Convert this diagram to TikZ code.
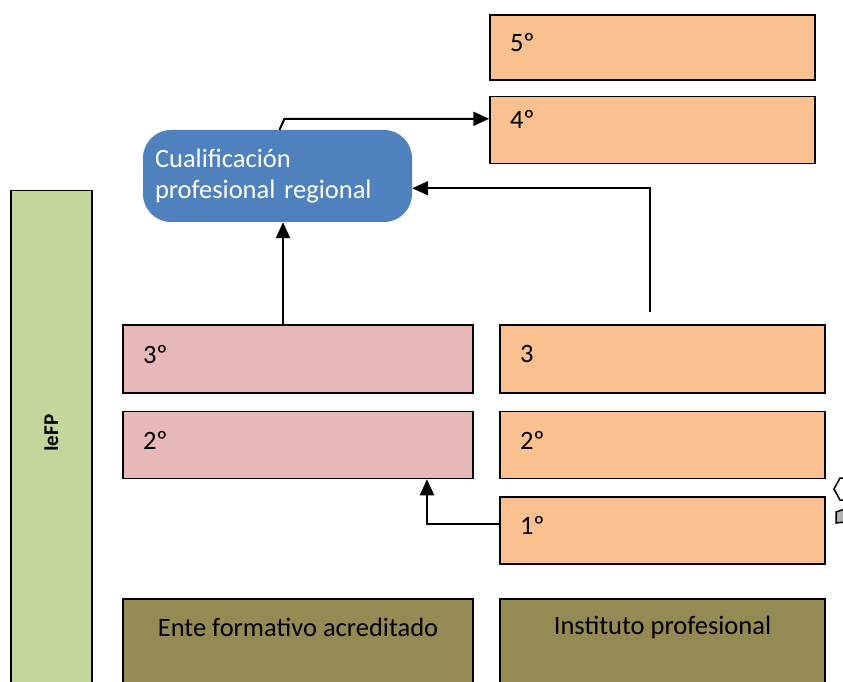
\documentclass[tikz,border=0pt]{standalone}
\usepackage{fontspec}
\setmainfont{Carlito}
\usetikzlibrary{arrows.meta,positioning,calc}
\definecolor{cnaranja}{HTML}{FAC090}
\definecolor{crosa}{HTML}{E6B8B7}
\definecolor{cverde}{HTML}{C3D69B}
\definecolor{cmarron}{HTML}{948A54}
\definecolor{cazul}{HTML}{4F81BD}

\begin{document}
\begin{tikzpicture}[x=1pt, y=1pt, font=\fontsize{26.5}{31}\selectfont]
\tikzset{
    %punta de flecha
    >={Triangle[length=16pt,width=14pt]},
    %estilo de las cajas
    caja/.style={
           rectangle,
           draw=black, line width=1.5pt,
           inner xsep=20pt,
           text depth=10pt,
           align=left,
           minimum height=67pt},
    naranja/.style={caja, fill=cnaranja, text width=285pt},
    rosa/.style={caja, fill=crosa, text width=310pt},
    marron/.style={rectangle, draw=black, line width=1.5pt, fill=cmarron, minimum height=100pt},
    cualif/.style={
           rectangle, rounded corners=28pt,
           fill=cazul, text=white,
           minimum width=269pt, minimum height=92pt,
           text width=245pt, inner xsep=12pt,
           align=left},
    flecha/.style={->, line width=2pt}
}
\useasboundingbox (0,0) rectangle (843,681);

%IeFP
\node[minimum width=81pt, minimum height=501pt, draw=black, line width=1.5pt, fill=cverde, anchor=north] (iefp) at (51.5,491) {};
\node[rotate=90, font=\fontsize{21}{24}\selectfont\bfseries] (iefptxt) at ([yshift=8pt]iefp.center) {IeFP};

%Cajas naranjas
\node(n5) [naranja, minimum height=65pt] at (652.5,633.5) {5º};
\node(n4) [naranja, below=15pt of n5, text depth=22pt] {4º};
\node(n3) [naranja, minimum height=68pt] at (662.5,322) {3};
\node(n2) [naranja, below=17pt of n3]                   {2º};
\node(n1) [naranja, below=17pt of n2]                   {1º};

%Cajas rosas
\node(r3) [rosa, minimum height=68pt] at (298,322) {3º};
\node(r2) [rosa, below=17pt of r3]                 {2º};

%Cualificacion
\node(cual) [cualif] at (277.5,505) {Cualificación\\profesional regional};

%Base
\node(ente) [marron, minimum width=350pt, anchor=north,
    label={[anchor=center, yshift=-29pt]north:Ente formativo acreditado}] at (298,83) {};
\node(inst) [marron, minimum width=325pt, anchor=north,
    label={[anchor=center, yshift=-29pt]north:Instituto profesional}] at (662.5,83) {};

%Restos en el borde
\draw[line width=1.5pt, fill=white] (845,203) -- (840,203) -- (834,192) -- (840,181) -- (845,181);
\draw[line width=1.5pt, fill=gray!60] (836,169) -- (845,172) -- (845,159) -- (836,158) -- cycle;

%Flechas
\draw[flecha] ([xshift=2pt]cual.north) -- ++(5,11) coordinate (c1) -- (c1 -| n4.west);
\draw[flecha] ([xshift=-15pt]r3.north) -- ([xshift=-15pt]r3.north |- cual.south);
\draw[flecha] ([shift={(-12.5pt,12pt)}]n3.north) -- ++(0,124) coordinate (c2) -- (c2 -| cual.east);
\draw[flecha] ([yshift=7pt]n1.west) -| ([xshift=129pt]r2.south);
\end{tikzpicture}
\end{document}
